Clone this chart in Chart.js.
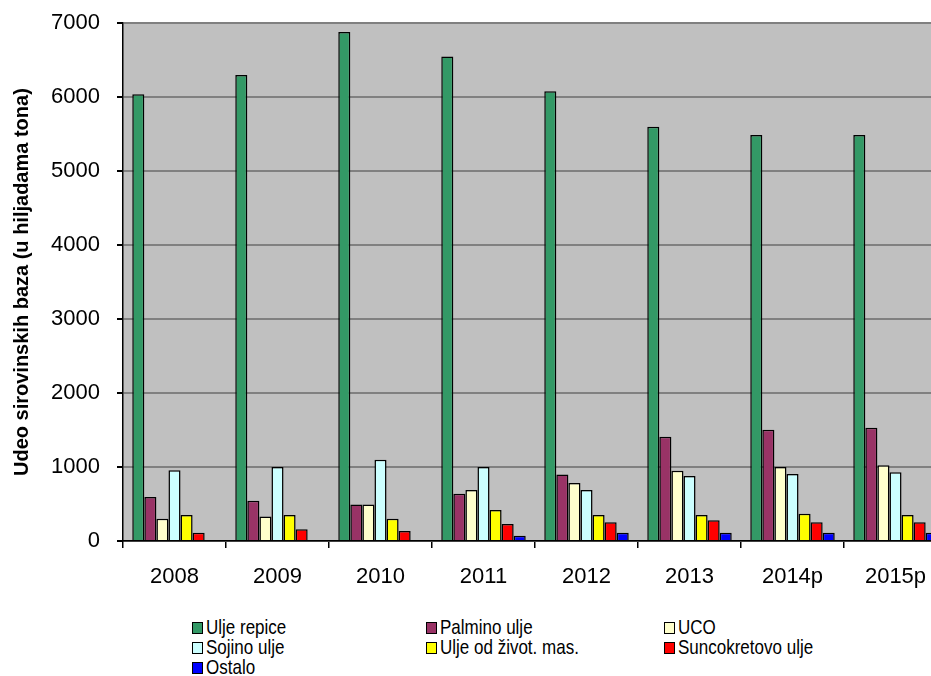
<!DOCTYPE html>
<html>
<head>
<meta charset="utf-8">
<script src="https://cdn.jsdelivr.net/npm/chart.js@4/dist/chart.umd.min.js"></script>
<style>
  html, body { margin: 0; padding: 0; background: #fff; overflow: hidden; }
  #wrap { position: relative; width: 931px; height: 676px; overflow: hidden; }
  #chart { position: absolute; left: 0; top: -7px; }
  #legend {
    position: absolute; left: 192px; top: 618px;
    display: grid; grid-template-columns: 234px 238px auto;
    grid-auto-rows: 20px;
    font-family: "Liberation Sans", Arial, sans-serif; font-size: 17px; color: #000;
  }
  .item { display: flex; align-items: center; white-space: nowrap; }
  .item span.t { display: inline-block; transform: scaleY(1.15); transform-origin: left center; }
  .box { width: 9px; height: 10px; border: 1.5px solid #000; margin-right: 3px; }
</style>
</head>
<body>
<div id="wrap">
  <canvas id="chart" width="960" height="607"></canvas>
  <div id="legend"></div>
</div>
<script>
// godine
const years = ['2008', '2009', '2010', '2011', '2012', '2013', '2014p', '2015p'];

// udeo sirovinskih baza, u hiljadama tona (procitano sa slike)
const uljeRepice = [6040, 6300, 6880, 6550, 6080, 5600, 5490, 5490];
const palminoUlje = [595, 545, 495, 640, 900, 1410, 1505, 1530];
const uco = [300, 330, 495, 690, 785, 950, 1000, 1025];
const sojinoUlje = [955, 1000, 1100, 1000, 690, 880, 905, 930];
const uljeOdZivot = [350, 350, 300, 420, 350, 350, 370, 350];
const suncokretovo = [110, 160, 135, 230, 255, 280, 255, 255];
const ostalo = [0, 0, 0, 70, 110, 110, 110, 110];

const yTicks = [0, 1000, 2000, 3000, 4000, 5000, 6000, 7000];

const series = [
  { label: 'Ulje repice', data: uljeRepice, color: '#339966' },
  { label: 'Palmino ulje', data: palminoUlje, color: '#993366' },
  { label: 'UCO', data: uco, color: '#FFFFCC' },
  { label: 'Sojino ulje', data: sojinoUlje, color: '#CCFFFF' },
  { label: 'Ulje od život. mas.', data: uljeOdZivot, color: '#FFFF00' },
  { label: 'Suncokretovo ulje', data: suncokretovo, color: '#FF0000' },
  { label: 'Ostalo', data: ostalo, color: '#0000FF' }
];

const fontFamily = '"Liberation Sans", Arial, sans-serif';

// gray plot background
const plotBg = {
  id: 'plotBg',
  beforeDraw(chart) {
    const a = chart.chartArea;
    const ctx = chart.ctx;
    ctx.save();
    ctx.fillStyle = '#C0C0C0';
    ctx.fillRect(a.left, a.top, a.right - a.left, a.bottom - a.top);
    ctx.restore();
  }
};

const chart = new Chart(document.getElementById('chart').getContext('2d'), {
  type: 'bar',
  data: {
    labels: years,
    datasets: series.map(s => ({
      label: s.label,
      data: s.data,
      backgroundColor: s.color,
      borderColor: '#000',
      borderWidth: 1.5,
      categoryPercentage: 0.82,
      barPercentage: 1
    }))
  },
  options: {
    responsive: false,
    animation: false,
    layout: { padding: { left: 0, top: 16, right: 13, bottom: 0 } },
    plugins: {
      legend: { display: false },
      tooltip: { enabled: false }
    },
    scales: {
      x: {
        afterFit(axis) { axis.height = 59; },
        grid: {
          offset: true,
          drawOnChartArea: false,
          color: '#000',
          tickColor: '#000',
          tickLength: 7,
          lineWidth: 1.5
        },
        border: { color: '#000', width: 1.5 },
        ticks: {
          color: '#000',
          padding: 16,
          font: { family: fontFamily, size: 22 }
        }
      },
      y: {
        min: 0,
        max: 7000,
        afterFit(axis) { axis.width = 123; },
        afterBuildTicks(axis) { axis.ticks = yTicks.map(v => ({ value: v })); },
        grid: {
          color: '#808080',
          lineWidth: 2,
          tickColor: '#000',
          tickLength: 6
        },
        border: { color: '#000', width: 1.5 },
        ticks: {
          color: '#000',
          padding: 17,
          callback: v => String(v),
          font: { family: fontFamily, size: 22 }
        },
        title: {
          display: true,
          text: 'Udeo sirovinskih baza (u hiljadama tona)',
          color: '#000',
          padding: { top: 10, bottom: 0 },
          font: { family: fontFamily, size: 20, weight: 'bold' }
        }
      }
    }
  },
  plugins: [plotBg]
});

// legend in three columns, built from the series
const legendEl = document.getElementById('legend');
series.forEach(s => {
  const item = document.createElement('div');
  item.className = 'item';
  const box = document.createElement('span');
  box.className = 'box';
  box.style.background = s.color;
  const txt = document.createElement('span');
  txt.className = 't';
  txt.textContent = s.label;
  item.appendChild(box);
  item.appendChild(txt);
  legendEl.appendChild(item);
});
</script>
</body>
</html>
